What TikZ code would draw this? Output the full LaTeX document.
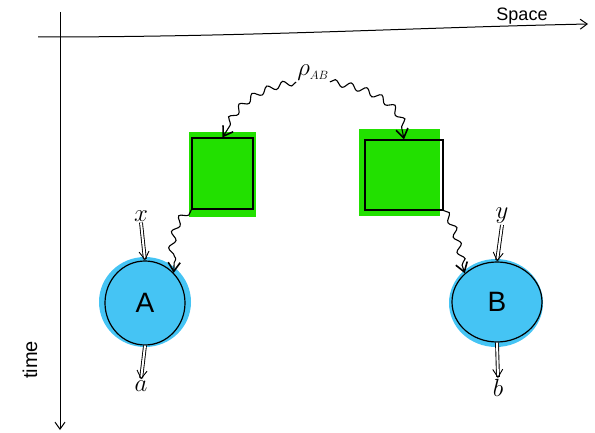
\documentclass[tikz,border=0pt]{standalone}
\usepackage{fontspec}
\setsansfont{Liberation Sans}
\usetikzlibrary{arrows.meta,decorations.pathmorphing,shapes.geometric}
\definecolor{boxgreen}{HTML}{22E000}
\definecolor{ballblue}{HTML}{45C4F4}
\tikzset{
  axis/.style={line width=1pt,-{Straight Barb[length=7pt,width=10pt]}},
  wiggle/.style={line width=1.1pt,decorate,decoration={snake,amplitude=3.2pt,segment length=16pt,post length=8pt},-{Straight Barb[length=9pt,width=12pt,line width=1.6pt]}},
  flow/.style={line width=0.9pt,double distance=2pt,-{Straight Barb[length=8pt,width=10pt]}},
  boxframe/.style={draw,line width=1.2pt,minimum width=61pt,minimum height=71pt,inner sep=0pt},
  ball/.style={draw,ellipse,line width=1.2pt,inner sep=0pt,font=\sffamily\fontsize{28}{32}\selectfont},
  lbl/.style={inner sep=1pt,font=\fontsize{25}{29}\selectfont}
}
\begin{document}
\begin{tikzpicture}[x=1pt,y=-1pt]
\useasboundingbox (0,0) rectangle (595,433);
% axes
\coordinate (hx0) at (38,37);
\coordinate (hx1) at (588,24);
\coordinate (vy0) at (60,12);
\coordinate (vy1) at (60,430);
\draw[axis] (hx0) .. controls (250,37) and (400,28) .. (hx1);
\draw[axis] (vy0) -- (vy1);
\node[font=\sffamily\fontsize{18}{22}\selectfont] (space) at (522,16) {Space};
\node[font=\sffamily\fontsize{20}{24}\selectfont,rotate=90] (time) at (30,360) {time};
% green boxes
\fill[boxgreen] (189,132) rectangle (256,217);
\fill[boxgreen] (359,129) rectangle (440,216);
\node[boxframe] (L) at (222.5,173.5) {};
\node[boxframe,minimum width=78pt,minimum height=70pt] (R) at (404,175) {};
% blue balls
\fill[ballblue] (145,302) ellipse (46pt and 45pt);
\fill[ballblue] (496,303) ellipse (47pt and 44pt);
\node[ball,minimum width=80pt,minimum height=84pt] (A) at (145,303) {A};
\node[ball,minimum width=90pt,minimum height=80pt] (B) at (497,302) {B};
% source
\node[lbl,font=\fontsize{26}{30}\selectfont] (rho) at (313,73) {$\rho_{\scriptscriptstyle AB}$};
\draw[wiggle] (rho.south west) .. controls (250,90) and (240,110) .. (L.north);
\draw[wiggle] (rho.south east) .. controls (380,90) and (400,110) .. (R.north);
\draw[wiggle] (L.south west) .. controls (175,220) and (175,245) .. (A.north east);
\draw[wiggle] (R.south east) .. controls (455,225) and (455,245) .. (B.north west);
% inputs and outputs
\node[lbl] (x) at (141,216) {$x$};
\node[lbl] (y) at (502,216) {$y$};
\node[lbl] (a) at (141,386) {$a$};
\node[lbl] (b) at (498,388) {$b$};
\draw[flow] (x.south) -- (A.north);
\draw[flow] (y.south) -- (B.north);
\draw[flow] (A.south) -- (a.north);
\draw[flow] (B.south) -- (b.north);
\end{tikzpicture}
\end{document}
